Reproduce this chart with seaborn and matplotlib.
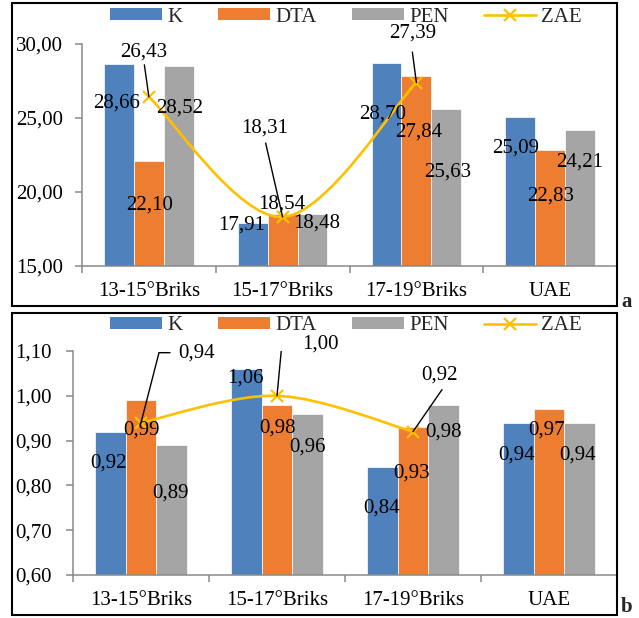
import numpy as np
import pandas as pd
import seaborn as sns
import matplotlib.pyplot as plt
from matplotlib.patches import Patch, Rectangle, PathPatch
from matplotlib.lines import Line2D
from matplotlib.path import Path

categories = ['13-15°Briks', '15-17°Briks', '17-19°Briks', 'UAE']
series = ['K', 'DTA', 'PEN']
bar_colors = ['#4F81BD', '#ED7D31', '#A5A5A5']
zae_color = '#FFC000'

# panel a
a_k = [28.66, 17.91, 28.70, 25.09]
a_dta = [22.10, 18.54, 27.84, 22.83]
a_pen = [28.52, 18.48, 25.63, 24.21]
a_zae = [26.43, 18.31, 27.39]

# panel b
b_k = [0.92, 1.06, 0.84, 0.94]
b_dta = [0.99, 0.98, 0.93, 0.97]
b_pen = [0.89, 0.96, 0.98, 0.94]
b_zae = [0.94, 1.00, 0.92]

# where the bar labels sit (y in data units, dx in pixels)
a_lab_y = [[26.0, 17.75, 25.3, 23.0], [19.1, 19.2, 24.05, 19.7], [25.7, 17.9, 21.35, 22.0]]
a_lab_dx = [[-2, -11, -4, -5], [1, -1, 2, 0], [1, 4, 1, 0]]
b_lab_y = [[0.85, 1.04, 0.75, 0.868], [0.924, 0.928, 0.828, 0.924], [0.783, 0.886, 0.92, 0.868]]
b_lab_dx = [[-2, -1, -1, -2], [0, 0, -1, -2], [-1, 0, 0, -2]]

# ZAE labels: text offset and leader polyline, pixels relative to the point
a_zae_text = [(-5.5, 45), (-18, 89), (-4, 49.6)]
a_zae_lead = [[(-4.5, 32)], [(-17, 74)], [(-4, 30.6)]]
b_zae_text = [(56, 70), (43, 52), (27, 57)]
b_zae_lead = [[(18, 70), (29, 70)], [(5, 53), (16, 53)], [(29, 42)]]

sns.set_theme(style='white')
plt.rcParams['font.family'] = ['Liberation Serif', 'DejaVu Serif']
FS = 15
GRAY = '#898989'


def fmt(v):
    return f'{v:.2f}'.replace('.', ',')


def smooth_path(xs, ys):
    pts = np.column_stack([xs, ys]).astype(float)
    ext = np.vstack([pts[0], pts, pts[-1]])
    verts = [pts[0]]
    codes = [Path.MOVETO]
    for i in range(len(pts) - 1):
        p0, p1, p2, p3 = ext[i], ext[i + 1], ext[i + 2], ext[i + 3]
        verts += [p1 + (p2 - p0) / 6, p2 - (p3 - p1) / 6, p2]
        codes += [Path.CURVE4] * 3
    return Path(verts, codes)


def draw_panel(ax, k, dta, pen, zae, ylim, yticks, lab_y, lab_dx,
               zae_text, zae_lead, ypad):
    df = pd.DataFrame({
        'cat': categories * 3,
        'series': [s for s in series for _ in categories],
        'val': k + dta + pen,
    })
    sns.barplot(data=df, x='cat', y='val', hue='series', hue_order=series,
                palette=bar_colors, saturation=1, width=0.67,
                edgecolor='white', linewidth=0.5, ax=ax, legend=False)
    ax.set_xlim(-0.5, len(categories) - 0.5)
    ax.set_ylim(*ylim)
    ax.set_yticks(yticks)
    ax.set_yticklabels([fmt(t) for t in yticks], fontsize=FS)
    ax.set_xticks(range(len(categories)))
    ax.set_xticklabels(categories, fontsize=FS)
    ax.set_xticks(np.arange(len(categories) + 1) - 0.5, minor=True)
    ax.set_xlabel('')
    ax.set_ylabel('')
    for s in ['top', 'right']:
        ax.spines[s].set_visible(False)
    for s in ['left', 'bottom']:
        ax.spines[s].set_color(GRAY)
        ax.spines[s].set_linewidth(1.1)
    ax.tick_params(axis='x', which='major', length=0, pad=11.5, colors='black')
    ax.tick_params(axis='x', which='minor', length=5, width=1.1, color=GRAY,
                   direction='out', bottom=True)
    ax.tick_params(axis='y', length=5, width=1.1, color=GRAY, direction='out',
                   left=True, pad=ypad, labelcolor='black')

    # bar value labels
    for j, cont in enumerate(ax.containers):
        vals = [k, dta, pen][j]
        for i, bar in enumerate(cont):
            xc = bar.get_x() + bar.get_width() / 2
            ax.annotate(fmt(vals[i]), (xc, lab_y[j][i]), xytext=(lab_dx[j][i], 0),
                        textcoords='offset pixels', ha='center', va='center',
                        fontsize=FS, color='black', zorder=5)

    # smoothed ZAE line
    xs = np.arange(len(zae))
    ax.add_patch(PathPatch(smooth_path(xs, zae), facecolor='none',
                           edgecolor=zae_color, lw=1.9, zorder=3))
    ax.plot(xs, zae, ls='none', marker='x', ms=9, mew=1.6,
            color=zae_color, zorder=4)

    for i, v in enumerate(zae):
        ax.annotate(fmt(v), (xs[i], v), xytext=zae_text[i],
                    textcoords='offset pixels', ha='center', va='center',
                    fontsize=FS, color='black', zorder=6)
        px, py = ax.transData.transform((xs[i], v))
        pts = [(px, py)] + [(px + dx, py + dy) for dx, dy in zae_lead[i]]
        d = ax.transData.inverted().transform(pts)
        ax.plot(d[:, 0], d[:, 1], color='black', lw=1.0, zorder=6)


fig = plt.figure(figsize=(6.39, 6.18), dpi=100)
ax_a = fig.add_axes([82 / 639, (618 - 266) / 618, 535 / 639, 222 / 618])
ax_b = fig.add_axes([73 / 639, (618 - 575) / 618, 544 / 639, 224 / 618])

draw_panel(ax_a, a_k, a_dta, a_pen, a_zae, (15, 30), [15, 20, 25, 30],
           a_lab_y, a_lab_dx, a_zae_text, a_zae_lead, 8.6)
draw_panel(ax_b, b_k, b_dta, b_pen, b_zae, (0.6, 1.1),
           [0.6, 0.7, 0.8, 0.9, 1.0, 1.1],
           b_lab_y, b_lab_dx, b_zae_text, b_zae_lead, 10)

handles = [Patch(facecolor=c, edgecolor='none') for c in bar_colors]
handles.append(Line2D([], [], color=zae_color, lw=1.9, marker='x', ms=9, mew=1.6))
labels = series + ['ZAE']
for ycen in [601 / 618, 292 / 618]:
    fig.legend(handles, labels, loc='center', bbox_to_anchor=(346 / 639, ycen),
               ncol=4, frameon=False, fontsize=FS, handlelength=2.5,
               handleheight=0.5, handletextpad=0.25, columnspacing=1.7,
               borderpad=0.1)

# panel frames and letters
for y0, h in [((618 - 306) / 618, 303 / 618), ((618 - 615) / 618, 302 / 618)]:
    fig.add_artist(Rectangle((12 / 639, y0), 605 / 639, h, transform=fig.transFigure,
                             fill=False, edgecolor='black', lw=1.5))
fig.text(627 / 639, (618 - 307) / 618, 'a', fontsize=FS, fontweight='bold',
         ha='center', va='baseline')
fig.text(627 / 639, 1.5 / 618, 'b', fontsize=FS, fontweight='bold',
         ha='center', va='bottom')

fig.savefig('out.png', dpi=100)
